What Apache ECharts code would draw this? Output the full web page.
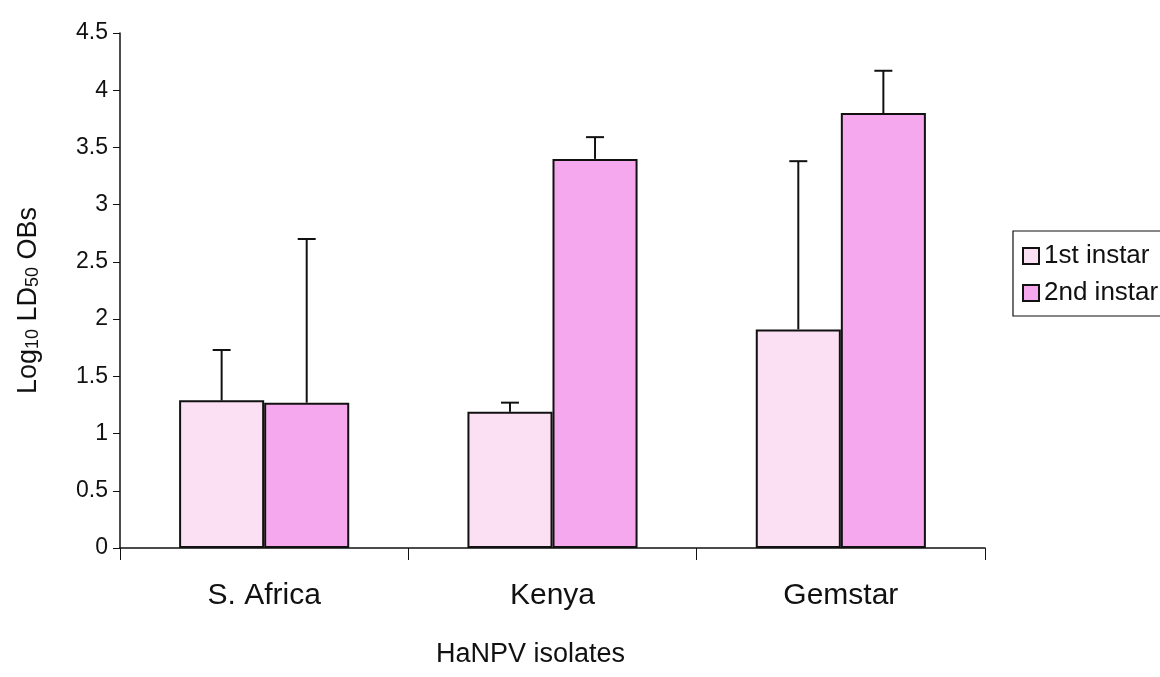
<!DOCTYPE html>
<html>
<head>
<meta charset="utf-8">
<script src="https://cdn.jsdelivr.net/npm/echarts@6/dist/echarts.min.js"></script>
<style>
html,body{margin:0;padding:0;background:#fff;}
#chart{width:1160px;height:677px;}
</style>
</head>
<body>
<div id="chart"></div>
<script>
const categories = ['S. Africa', 'Kenya', 'Gemstar'];
const seriesNames = ['1st instar', '2nd instar'];
const firstInstar = [1.29, 1.19, 1.91];
const secondInstar = [1.27, 3.40, 3.80];
const firstErr = [0.44, 0.08, 1.47];
const secondErr = [1.43, 0.19, 0.37];
const yTicks = [0, 0.5, 1, 1.5, 2, 2.5, 3, 3.5, 4, 4.5];

const GAP = 0.41;
const FONT = '"Liberation Sans", Arial, sans-serif';

function errSeries(vals, errs, side) {
  return {
    type: 'custom',
    z: 5,
    data: vals.map((v, i) => [i, v, errs[i]]),
    renderItem: function (params, api) {
      const c = api.value(0), v = api.value(1), e = api.value(2);
      const catW = api.size([1, 0])[0];
      const barW = catW * (1 - GAP) / 2;
      const off = side * barW / 2;
      const p0 = api.coord([c, v]);
      const p1 = api.coord([c, v + e]);
      const x = p0[0] + off;
      const cap = 9;
      const st = { stroke: '#111', lineWidth: 2 };
      return {
        type: 'group',
        children: [
          { type: 'line', shape: { x1: x, y1: p0[1], x2: x, y2: p1[1] }, style: st },
          { type: 'line', shape: { x1: x - cap, y1: p1[1], x2: x + cap, y2: p1[1] }, style: st }
        ]
      };
    }
  };
}

const chart = echarts.init(document.getElementById('chart'));
chart.setOption({
  backgroundColor: '#fff',
  animation: false,
  textStyle: { fontFamily: FONT },
  grid: { left: 120, right: 175, top: 33, bottom: 129 },
  legend: {
    data: seriesNames,
    orient: 'vertical',
    left: 1013,
    top: 231,
    itemWidth: 16,
    itemHeight: 16,
    itemGap: 11,
    padding: [12, 14, 10, 9],
    borderColor: '#111',
    borderWidth: 1.2,
    icon: 'rect',
    textStyle: { fontSize: 26, color: '#111', fontFamily: FONT, padding: [0, 0, 0, 0] }
  },
  xAxis: {
    type: 'category',
    data: categories,
    axisLine: { lineStyle: { color: '#111', width: 1.5 } },
    axisTick: { show: true, length: 12, lineStyle: { color: '#111' } },
    axisLabel: { fontSize: 30, color: '#111', margin: 33, fontFamily: FONT },
    name: 'HaNPV isolates',
    nameLocation: 'middle',
    nameGap: 93,
    nameTextStyle: { fontSize: 27, color: '#111', fontFamily: FONT, padding: [0, 44, 0, 0] }
  },
  yAxis: {
    type: 'value',
    min: yTicks[0],
    max: yTicks[yTicks.length - 1],
    interval: 0.5,
    splitLine: { show: false },
    axisLine: { show: true, lineStyle: { color: '#111', width: 1.5 } },
    axisTick: { show: true, length: 7, lineStyle: { color: '#111' } },
    axisLabel: { fontSize: 23, color: '#111', margin: 12, fontFamily: FONT },
    name: '{n|Log}{s|10}{n| LD}{s|50}{n| OBs}',
    nameLocation: 'middle',
    nameRotate: 90,
    nameGap: 78,
    nameTextStyle: {
      color: '#111',
      padding: [0, 20, 0, 0],
      rich: {
        n: { fontSize: 27, color: '#111', fontFamily: FONT },
        s: { fontSize: 18, color: '#111', fontFamily: FONT, verticalAlign: 'bottom', padding: [7, 0, 0, 0] }
      }
    }
  },
  series: [
    {
      name: seriesNames[0],
      type: 'bar',
      data: firstInstar,
      barGap: '0%',
      barCategoryGap: (GAP * 100) + '%',
      itemStyle: { color: '#fbe0f3', borderColor: '#111', borderWidth: 2 }
    },
    {
      name: seriesNames[1],
      type: 'bar',
      data: secondInstar,
      barGap: '0%',
      barCategoryGap: (GAP * 100) + '%',
      itemStyle: { color: '#f6a8ee', borderColor: '#111', borderWidth: 2 }
    },
    errSeries(firstInstar, firstErr, -1),
    errSeries(secondInstar, secondErr, 1)
  ]
});
</script>
</body>
</html>
